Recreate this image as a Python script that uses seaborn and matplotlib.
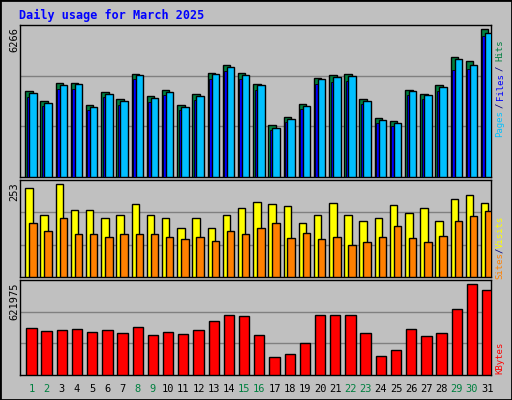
import numpy as np
import pandas as pd
import matplotlib
matplotlib.use("Agg")
import matplotlib.pyplot as plt
import seaborn as sns

days = list(range(1, 32))
weekend = [1, 2, 8, 9, 15, 16, 22, 23, 29, 30]

hits = [3548, 3133, 3868, 3868, 2955, 3494, 3216, 4254, 3328, 3590, 2955, 3411, 4295, 4615, 4295, 3826,
        2125, 2457, 2996, 4075, 4200, 4241, 3216, 2415, 2291, 3590, 3411, 3785, 4947, 4781, 6109]
files = [3480, 3070, 3800, 3820, 2870, 3430, 3130, 4210, 3240, 3520, 2900, 3330, 4230, 4530, 4210, 3780,
         2040, 2390, 2930, 4030, 4120, 4160, 3150, 2330, 2230, 3530, 3360, 3700, 4860, 4620, 5930]
pages = [3300, 2920, 3620, 3640, 2750, 3280, 2980, 4030, 3080, 3370, 2760, 3180, 4040, 4350, 4030, 3590,
         1930, 2250, 2800, 3830, 3920, 3950, 3000, 2210, 2100, 3380, 3200, 3550, 4430, 4440, 5800]
visits = [232, 163, 242, 174, 174, 155, 163, 190, 163, 153, 129, 155, 129, 161, 179, 195,
          190, 184, 142, 161, 192, 163, 145, 155, 187, 166, 179, 145, 203, 213, 192]
sites = [140, 119, 155, 111, 113, 105, 111, 113, 111, 105, 100, 105, 95, 119, 111, 129,
         140, 103, 116, 100, 105, 84, 92, 105, 134, 103, 90, 108, 145, 158, 171]
kbytes = [307662, 288024, 294570, 301116, 281478, 294570, 274932, 314208, 261840, 281478, 268386,
          294570, 353484, 392760, 386214, 261840, 117828, 137466, 209472, 392760, 392760, 392760,
          274932, 124374, 163650, 301116, 255294, 274932, 432036, 595686, 556410]
max_hits = 6266
max_visits = 253
max_kb = 621975

sns.set_theme(style="white")
plt.rcParams["font.family"] = ["DejaVu Sans Mono"]
bg = "#C0C0C0"

fig = plt.figure(figsize=(5.12, 4.0), dpi=100, facecolor=bg)
W, H = 512, 400
def box(x0, y0, x1, y1):
    return [x0 / W, 1 - y1 / H, (x1 - x0) / W, (y1 - y0) / H]

ax1 = fig.add_axes(box(20, 25, 491, 177))
ax2 = fig.add_axes(box(20, 180, 491, 277))
ax3 = fig.add_axes(box(20, 280, 491, 375))

x = np.arange(31)
ax1.bar(x - 0.13, hits, width=0.49, color="#008040", edgecolor="black", lw=1, zorder=3)
ax1.bar(x - 0.14, pages, width=0.28, color="#0000FF", edgecolor="black", lw=0.6, zorder=4)
ax1.bar(x + 0.13, files, width=0.49, color="#00C0FF", edgecolor="black", lw=1, zorder=5)
ax1.set_ylim(0, max_hits)

ax2.bar(x - 0.13, visits, width=0.49, color="#FFFF00", edgecolor="black", lw=1, zorder=3)
ax2.bar(x + 0.13, sites, width=0.49, color="#FF8000", edgecolor="black", lw=1, zorder=4)
ax2.set_ylim(0, max_visits)

df = pd.DataFrame({"day": days, "kb": kbytes})
sns.barplot(data=df, x="day", y="kb", ax=ax3, color="#FF0000", saturation=1,
            edgecolor="black", linewidth=1, width=0.68, zorder=3)
for p in ax3.patches:
    p.set_x(p.get_x() + 0.03)
ax3.set_ylim(0, max_kb)

for ax, top, ytop in [(ax1, max_hits, 27), (ax2, max_visits, 182), (ax3, max_kb, 282)]:
    ax.set_facecolor(bg)
    ax.set_xlim(-0.72, 30.28)
    ax.set_xticks([])
    ax.set_yticks([])
    ax.set_xlabel("")
    ax.set_ylabel("")
    for g in (top / 3, 2 * top / 3):
        ax.axhline(g, color="#808080", lw=1, zorder=1)
    for s in ax.spines.values():
        s.set_color("black")
        s.set_linewidth(1)
    fig.text(14 / W, 1 - ytop / H, str(top), rotation=90,
             ha="center", va="top", fontsize=7.5, color="black")

for i, d in enumerate(days):
    ax3.text(i + 0.03, -0.1, str(d), transform=ax3.get_xaxis_transform(), ha="center", va="top",
             fontsize=7.5, color="#008040" if d in weekend else "black")

fig.text(19 / W, 1 - 15 / H, "Daily usage for March 2025", color="#0000FF",
         fontsize=8.5, fontweight="bold", va="center", ha="left")

def side(label, ymid, color):
    fig.text(500 / W, 1 - ymid / H, label, rotation=90, color=color,
             fontsize=6.5, ha="center", va="center")

side("Pages", 124, "#00C0FF")
side("/", 105, "#000080")
side("Files", 87, "#0000FF")
side("/", 68, "#000080")
side("Hits", 50, "#008040")
side("Sites", 266, "#FF8000")
side("/", 250, "#000080")
side("Visits", 232, "#FFFF00")
side("KBytes", 358, "#FF0000")

fig.patches.append(plt.Rectangle((0, 0), 1, 1, transform=fig.transFigure, fill=False,
                                 edgecolor="black", lw=2))
fig.savefig("out.png", dpi=100, facecolor=bg)
